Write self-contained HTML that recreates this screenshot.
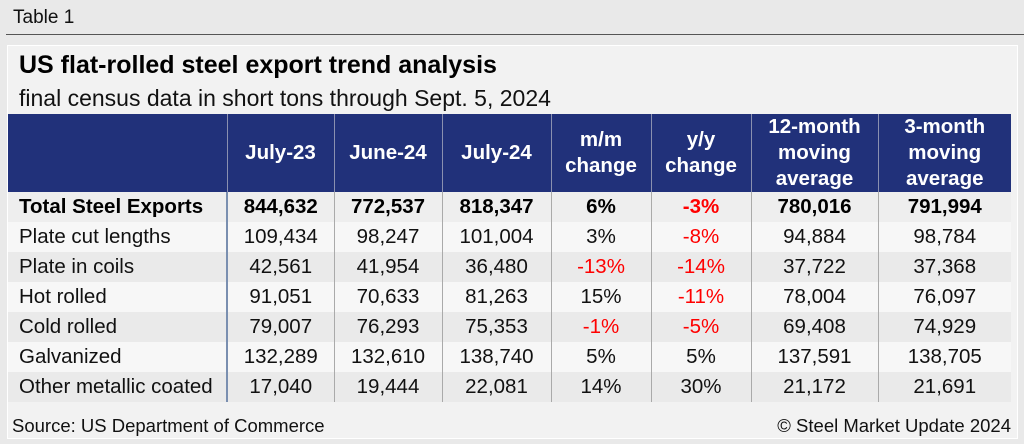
<!DOCTYPE html>
<html><head><meta charset="utf-8"><style>
body{margin:0;width:1024px;height:444px;background:#e9e9e9;font-family:"Liberation Sans",Arial,sans-serif;overflow:hidden;position:relative}
#top{position:absolute;top:0;height:34px;border-bottom:1px solid #555;left:6px;width:1018px}
#top span{position:absolute;left:7px;top:7px;font-size:19px;color:#111}
#panel{position:absolute;left:7px;top:45px;width:1009px;height:392px;background:#f2f2f2;border:1px solid #fff}
h1{position:absolute;left:11px;top:5px;margin:0;font-size:25px;font-weight:bold;color:#000}
.sub{position:absolute;left:11px;top:39px;font-size:23px;color:#111}
table{position:absolute;left:0;top:68px;border-collapse:collapse;width:1003px;table-layout:fixed}
th{background:#21317a;color:#fff;font-size:20.5px;font-weight:bold;height:78px;line-height:26px;border-left:1px solid #8a90b0;padding:0}
td{height:30px;font-size:20.5px;text-align:center;padding:0;border-left:1px solid #aaa;color:#111;white-space:nowrap}
td:first-child{text-align:left;padding-left:11px;border-left:none;border-right:2px solid #7a8fb0}
tr.t td{font-weight:bold;background:#eeeeee;color:#000}
tr.a td{background:#f7f7f7}
tr.b td{background:#eaeaea}
.r{color:#f00!important}
#src{position:absolute;left:4px;top:369px;font-size:18.5px;color:#111}
#cp{position:absolute;right:6px;top:369px;font-size:18.5px;color:#111}
</style></head><body>
<div id="top"><span>Table 1</span></div>
<div id="panel">
<h1>US flat-rolled steel export trend analysis</h1>
<div class="sub">final census data in short tons through Sept. 5, 2024</div>
<table>
<colgroup><col style="width:219px"><col style="width:107px"><col style="width:108px"><col style="width:109px"><col style="width:100px"><col style="width:100px"><col style="width:127px"><col style="width:133px"></colgroup>
<tr><th style="border-left:none"></th><th>July-23</th><th>June-24</th><th>July-24</th><th>m/m<br>change</th><th>y/y<br>change</th><th>12-month<br>moving<br>average</th><th>3-month<br>moving<br>average</th></tr>
<tr class="t"><td>Total Steel Exports</td><td>844,632</td><td>772,537</td><td>818,347</td><td>6%</td><td class="r">-3%</td><td>780,016</td><td>791,994</td></tr>
<tr class="a"><td>Plate cut lengths</td><td>109,434</td><td>98,247</td><td>101,004</td><td>3%</td><td class="r">-8%</td><td>94,884</td><td>98,784</td></tr>
<tr class="b"><td>Plate in coils</td><td>42,561</td><td>41,954</td><td>36,480</td><td class="r">-13%</td><td class="r">-14%</td><td>37,722</td><td>37,368</td></tr>
<tr class="a"><td>Hot rolled</td><td>91,051</td><td>70,633</td><td>81,263</td><td>15%</td><td class="r">-11%</td><td>78,004</td><td>76,097</td></tr>
<tr class="b"><td>Cold rolled</td><td>79,007</td><td>76,293</td><td>75,353</td><td class="r">-1%</td><td class="r">-5%</td><td>69,408</td><td>74,929</td></tr>
<tr class="a"><td>Galvanized</td><td>132,289</td><td>132,610</td><td>138,740</td><td>5%</td><td>5%</td><td>137,591</td><td>138,705</td></tr>
<tr class="b"><td>Other metallic coated</td><td>17,040</td><td>19,444</td><td>22,081</td><td>14%</td><td>30%</td><td>21,172</td><td>21,691</td></tr>
</table>
<div id="src">Source: US Department of Commerce</div>
<div id="cp">© Steel Market Update 2024</div>
</div>
</body></html>
